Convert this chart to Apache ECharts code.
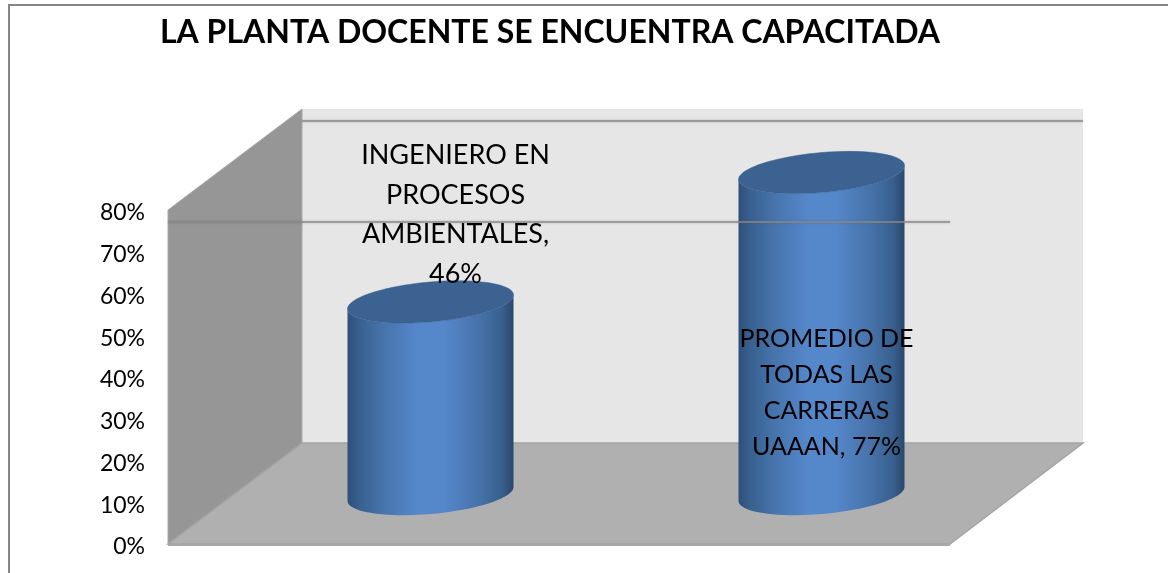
<!DOCTYPE html>
<html><head><meta charset="utf-8">
<style>html,body{margin:0;padding:0;background:#fff}#c{width:1168px;height:573px}</style>
<script src="https://cdn.jsdelivr.net/npm/echarts@6/dist/echarts.min.js"></script>
</head><body><div id="c"></div>
<script>
const titleText = "LA PLANTA DOCENTE SE ENCUENTRA CAPACITADA";
const categories = ["INGENIERO EN\nPROCESOS\nAMBIENTALES", "PROMEDIO DE\nTODAS LAS\nCARRERAS\nUAAAN"];
const labelSeparators = [",\n", ", "];
const values = [46, 77];
const yTicks = [0, 10, 20, 30, 40, 50, 60, 70, 80];

const FONT = 'Lato, "Open Sans", sans-serif';
const DEPTH_X = 134, DEPTH_Y = -101;
const HALF_W = 83, ELL_B = 20, ELL_S = -7;
const LABEL_STYLE = [
  {dx: 25, yTop: 136, lh: 39.5, size: 27},
  {dx: 5, yTop: 321, lh: 36, size: 25}
];

function ell(cx, cy, from, to, n) {
  const p = [];
  for (let i = 0; i <= n; i++) {
    const t = from + (to - from) * i / n;
    p.push([cx + HALF_W * Math.cos(t), cy + ELL_B * Math.sin(t) + ELL_S * Math.cos(t)]);
  }
  return p;
}
const bodyFill = {type: 'linear', x: 0, y: 0, x2: 1, y2: 0, colorStops: [
  {offset: 0, color: '#2f4f78'}, {offset: .07, color: '#38608f'}, {offset: .2, color: '#4672a9'},
  {offset: .42, color: '#5587cb'}, {offset: .58, color: '#5587cb'}, {offset: .8, color: '#4672a9'},
  {offset: .93, color: '#38608f'}, {offset: 1, color: '#2b466b'}
]};

const option = {
  animation: false,
  backgroundColor: '#fff',
  title: {text: titleText, left: 160, top: 17, padding: 0,
    textStyle: {fontFamily: FONT, fontWeight: 'bold', fontSize: 32, color: '#000'}},
  grid: {left: 168, width: 782, top: 213, height: 334},
  xAxis: {type: 'category', data: categories, axisLine: {show: false}, axisTick: {show: false}, axisLabel: {show: false}, splitLine: {show: false}},
  yAxis: {type: 'value', min: yTicks[0], max: yTicks[yTicks.length - 1], interval: 10,
    axisLine: {show: false}, axisTick: {show: false}, splitLine: {show: false},
    axisLabel: {margin: 23, fontFamily: FONT, fontSize: 23, color: '#000', padding: [5, 0, 0, 0], formatter: '{value}%'}},
  graphic: [{type: 'rect', silent: true, z: 0, shape: {x: 9, y: 5, width: 1300, height: 700},
    style: {fill: 'none', stroke: '#868686', lineWidth: 2}}],
  series: [
    {type: 'custom', z: 1, silent: true, clip: false, data: [0], coordinateSystem: 'cartesian2d',
      renderItem(params, api) {
        const c = params.coordSys, L = c.x, R = c.x + c.width, B = c.y + c.height - 3, T = c.y - 3;
        return {type: 'group', children: [
          {type: 'polygon', shape: {points: [[L + DEPTH_X, T + DEPTH_Y], [R + DEPTH_X - 1, T + DEPTH_Y], [R + DEPTH_X - 1, B + DEPTH_Y], [L + DEPTH_X, B + DEPTH_Y]]}, style: {fill: '#e6e6e6'}},
          {type: 'polygon', shape: {points: [[L, T], [L + DEPTH_X, T + DEPTH_Y], [L + DEPTH_X, B + DEPTH_Y], [L, B]]}, style: {fill: '#969696', stroke: '#a8a8a8', lineWidth: 1}},
          {type: 'polygon', shape: {points: [[L, B], [L + DEPTH_X, B + DEPTH_Y], [R + DEPTH_X - 1, B + DEPTH_Y], [R, B]]}, style: {fill: '#b0b0b0', stroke: '#a4a4a4', lineWidth: 1.5}},
          {type: 'line', shape: {x1: L, y1: B + 1, x2: R, y2: B + 1}, style: {stroke: '#a8a8a8', lineWidth: 2}}
        ]};
      }},
    {type: 'custom', z: 2, silent: true, clip: false, data: values.map((v, i) => [i, v]), encode: {x: 0, y: 1},
      renderItem(params, api) {
        const base = api.coord([api.value(0), 0]), top = api.coord([api.value(0), api.value(1)]);
        const cx = base[0] + DEPTH_X / 2, by = base[1] - 53, ty = top[1] - 53;
        const t = ell(cx, ty, Math.PI, 0, 40), b = ell(cx, by, 0, Math.PI, 40);
        return {type: 'group', children: [
          {type: 'polygon', shape: {points: t.concat(b)}, style: {fill: bodyFill}},
          {type: 'polygon', shape: {points: ell(cx, ty, 0, 2 * Math.PI, 80)}, style: {fill: '#3c6291', stroke: '#3a5f8d', lineWidth: .5}}
        ]};
      }},
    {type: 'custom', z: 3, silent: true, clip: false, data: [0],
      renderItem(params, api) {
        const c = params.coordSys, L = c.x, R = c.x + c.width, y = c.y + 9;
        const ln = (x1, y1, x2, y2) => ({type: 'line', shape: {x1, y1, x2, y2}, style: {stroke: '#8a8a8a', lineWidth: 1.5, opacity: .95, shadowBlur: 2, shadowColor: 'rgba(90,90,90,.5)'}});
        return {type: 'group', children: [ln(L + DEPTH_X, y + DEPTH_Y, R + DEPTH_X - 1, y + DEPTH_Y), ln(L, y, R, y)]};
      }},
    {type: 'custom', z: 4, silent: true, clip: false, data: values.map((v, i) => [i, v]), encode: {x: 0, y: 1},
      renderItem(params, api) {
        const i = params.dataIndex, s = LABEL_STYLE[i];
        const x = api.coord([i, 0])[0] + DEPTH_X / 2 + s.dx;
        return {type: 'text', x, y: s.yTop, style: {
          text: categories[i] + labelSeparators[i] + values[i] + '%',
          fontFamily: FONT, fontSize: s.size, lineHeight: s.lh, fill: '#000', align: 'center', verticalAlign: 'top'}};
      }}
  ]
};
echarts.init(document.getElementById('c'), null, {renderer: 'canvas'}).setOption(option);
</script>
</body></html>
